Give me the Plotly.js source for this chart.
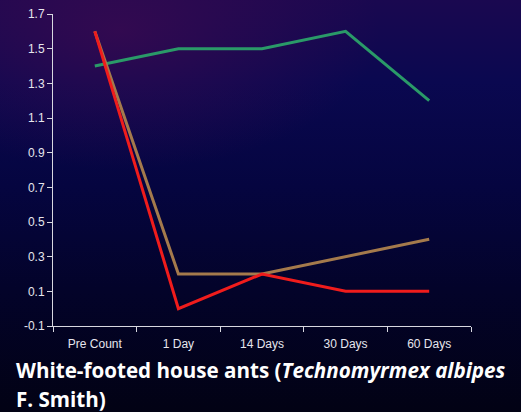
<!DOCTYPE html>
<html><head><meta charset="utf-8">
<script src="https://cdn.plot.ly/plotly-3.0.1.min.js"></script>
<style>
html,body{margin:0;padding:0;}
body{width:521px;height:412px;overflow:hidden;
background:
 radial-gradient(ellipse 260px 140px at 120px 30px, rgba(60,10,80,0.75), rgba(60,10,80,0) 100%),
 linear-gradient(180deg,#1a0850 0%,#0a0850 20%,#050540 45%,#03032a 70%,#020214 100%);}
#chart{width:521px;height:412px;}
</style></head>
<body><div id="chart"></div>
<script>
const categories = ["Pre Count","1 Day","14 Days","30 Days","60 Days"];
const greenSeries = [1.4, 1.5, 1.5, 1.6, 1.2];
const tanSeries = [1.6, 0.2, 0.2, 0.3, 0.4];
const redSeries = [1.6, 0.0, 0.2, 0.1, 0.1];
const yTickVals = [-0.1,0.1,0.3,0.5,0.7,0.9,1.1,1.3,1.5,1.7];

const mk = (y,color)=>({x:categories,y:y,type:'scatter',mode:'lines',line:{color:color,width:3},hoverinfo:'skip'});
const data = [mk(greenSeries,'#2a9a68'), mk(tanSeries,'#a47a4c'), mk(redSeries,'#f01c1c')];
const tickFont = {family:'Liberation Sans, Arial, sans-serif',size:12,color:'#e6e6ee'};
const titleFont = {family:'Open Sans, sans-serif',size:20.6,color:'#ffffff'};
const layout = {
  width:521,height:412,
  paper_bgcolor:'rgba(0,0,0,0)',plot_bgcolor:'rgba(0,0,0,0)',
  margin:{l:53,r:50,t:14,b:86},
  showlegend:false,
  xaxis:{type:'category',range:[-0.5,4.5],showline:true,linecolor:'#d8d8e0',linewidth:1,
    ticks:'outside',ticklen:5,tickcolor:'#d8d8e0',tickson:'boundaries',showgrid:false,zeroline:false,
    tickfont:tickFont,ticklabelstandoff:7},
  yaxis:{range:[-0.1,1.7],tickvals:yTickVals,ticktext:yTickVals.map(v=>v.toFixed(1)),
    showline:true,linecolor:'#d8d8e0',linewidth:1,ticks:'outside',ticklen:5,tickcolor:'#d8d8e0',
    showgrid:false,zeroline:false,tickfont:tickFont},
  annotations:[
    {xref:'paper',yref:'paper',x:-0.093,y:-0.09,xanchor:'left',yanchor:'top',align:'left',showarrow:false,
     text:'<b>White-footed house ants (<i>Technomyrmex albipes</i></b>',font:titleFont},
    {xref:'paper',yref:'paper',x:-0.093,y:-0.182,xanchor:'left',yanchor:'top',align:'left',showarrow:false,
     text:'<b>F. Smith)</b>',font:titleFont}]
};
Plotly.newPlot('chart',data,layout,{staticPlot:true,displayModeBar:false});
</script></body></html>
